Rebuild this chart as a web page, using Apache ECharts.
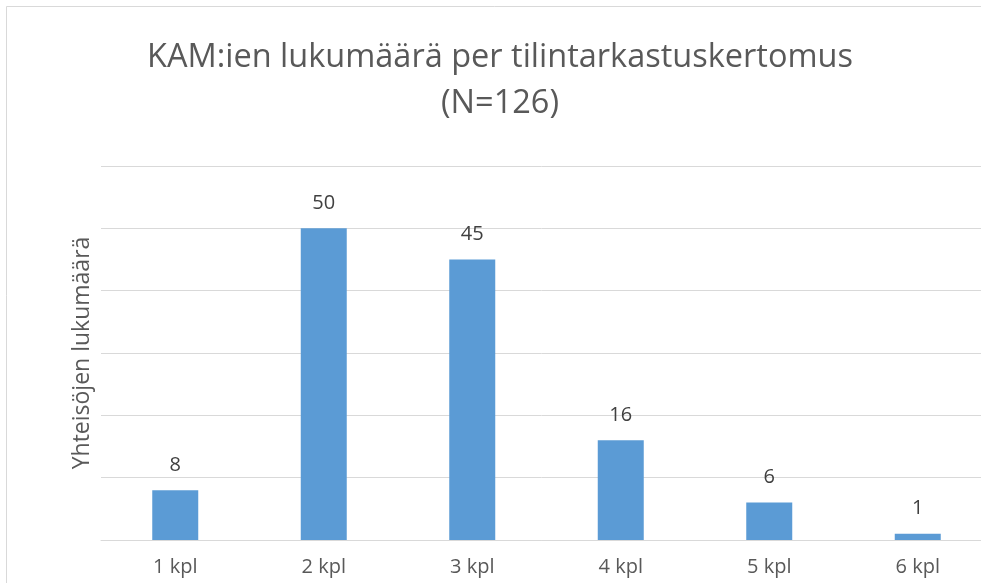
<!DOCTYPE html>
<html>
<head>
<meta charset="utf-8">
<script src="https://cdn.jsdelivr.net/npm/echarts@6/dist/echarts.min.js"></script>
<style>
  html, body { margin: 0; padding: 0; background: #fff; }
  #main { width: 981px; height: 583px; }
</style>
</head>
<body>
<div id="main"></div>
<script>
// data
var categories = ['1 kpl', '2 kpl', '3 kpl', '4 kpl', '5 kpl', '6 kpl'];
var counts = [8, 50, 45, 16, 6, 1];
var titleLines = ['KAM:ien lukumäärä per tilintarkastuskertomus', '(N=126)'];
var yName = 'Yhteisöjen lukumäärä';

var myChart = echarts.init(document.getElementById('main'));

var option = {
    backgroundColor: '#fff',
    textStyle: { fontFamily: 'Open Sans' },
    title: {
        text: titleLines.join('\n'),
        left: 495,
        textAlign: 'center',
        top: 30,
        textStyle: {
            color: '#595959',
            fontSize: 32.5,
            fontWeight: 'normal',
            lineHeight: 46,
            fontFamily: 'Open Sans'
        }
    },
    graphic: [{
        type: 'rect',
        shape: { x: 6.5, y: 6.5, width: 1200, height: 1200 },
        style: { fill: 'none', stroke: '#d9d9d9', lineWidth: 1 },
        silent: true
    }],
    // plot area runs past the right edge of the picture
    grid: {
        left: 101,
        width: 891,
        top: 166,
        bottom: 43,
        outerBoundsMode: 'none'
    },
    xAxis: {
        type: 'category',
        data: categories,
        axisTick: { show: false },
        axisLine: { lineStyle: { color: '#d9d9d9' } },
        axisLabel: { color: '#595959', fontSize: 20, margin: 17 }
    },
    yAxis: {
        type: 'value',
        min: 0,
        max: 60,
        interval: 10,
        name: yName,
        nameLocation: 'middle',
        nameGap: 7,
        nameTextStyle: { color: '#595959', fontSize: 23 },
        axisLabel: { show: false },
        axisLine: { show: false },
        axisTick: { show: false },
        splitLine: { lineStyle: { color: '#d9d9d9' } }
    },
    series: [{
        type: 'bar',
        data: counts,
        barWidth: 46,
        itemStyle: { color: '#5b9bd5' },
        label: {
            show: true,
            position: 'top',
            distance: 15,
            color: '#404040',
            fontSize: 20
        }
    }]
};

myChart.setOption(option);
</script>
</body>
</html>
